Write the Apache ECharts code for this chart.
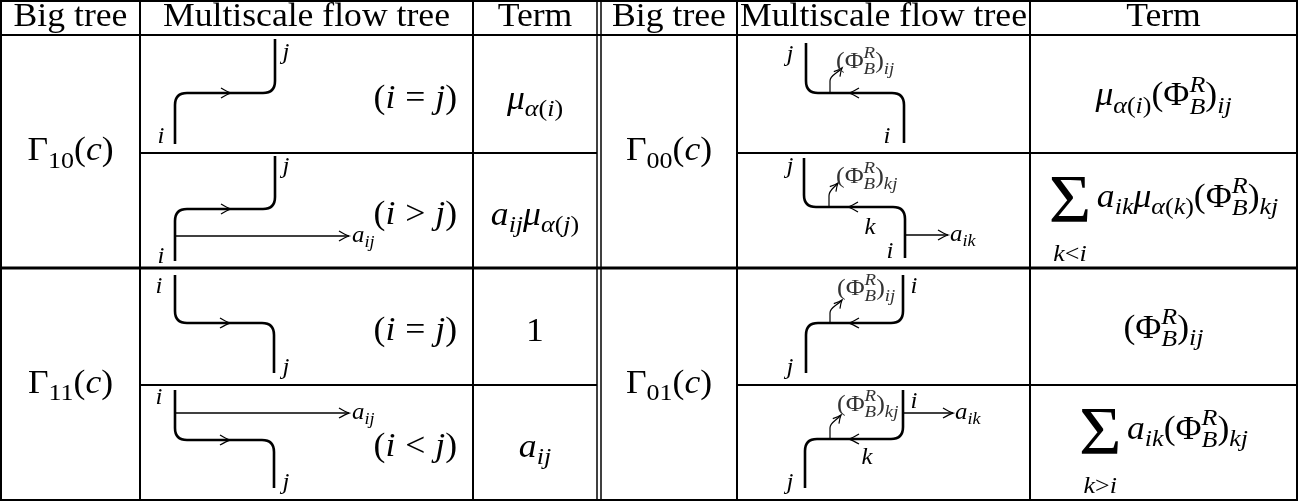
<!DOCTYPE html>
<html>
<head>
<meta charset="utf-8">
<script src="https://cdn.jsdelivr.net/npm/echarts@6/dist/echarts.min.js"></script>
<style>
  html, body { margin: 0; padding: 0; background: #fff; }
  #main { width: 1298px; height: 504px; }
</style>
</head>
<body>
<div id="main"></div>
<script>
// table frame
const colEdges = [1, 140, 473, 597, 601, 737, 1030, 1297];
const rowEdges = [1, 35, 153, 268, 385, 500];

// cell contents
const headers = ['Big tree', 'Multiscale flow tree', 'Term', 'Big tree', 'Multiscale flow tree', 'Term'];
const bigTreeIdx = ['10', '11', '00', '01'];
const condOps = ['=', '>', '=', '<'];
const termsLeft = [
  [['μ', 'i'], ['α', 'is'], ['(', 'rs'], ['i', 'is'], [')', 'rs']],
  [['a', 'i'], ['ij', 'is'], ['μ', 'i'], ['α', 'is'], ['(', 'rs'], ['j', 'is'], [')', 'rs']],
  [['1', 'r']],
  [['a', 'i'], ['ij', 'is']]
];
const termsRight = [
  [['μ', 'i'], ['α', 'is'], ['(', 'rs'], ['i', 'is'], [')', 'rs'], ['(', 'r'], ['Φ', 'r'], ['R|B', 'ip'], [')', 'r'], ['ij', 'is']],
  [['Σ', 'S'], ['a', 'i'], ['ik', 'is'], ['μ', 'i'], ['α', 'is'], ['(', 'rs'], ['k', 'is'], [')', 'rs'], ['(', 'r'], ['Φ', 'r'], ['R|B', 'ip'], [')', 'r'], ['kj', 'is']],
  [['(', 'r'], ['Φ', 'r'], ['R|B', 'ip'], [')', 'r'], ['ij', 'is']],
  [['Σ', 'S'], ['a', 'i'], ['ik', 'is'], ['(', 'r'], ['Φ', 'r'], ['R|B', 'ip'], [')', 'r'], ['kj', 'is']]
];
const sumLimits = [null, [['k', 'is'], ['<', 'rs'], ['i', 'is']], null, [['k', 'is'], ['>', 'rs'], ['i', 'is']]];

// labels used inside the flow trees
const treeText = {
  i: [['i', 'i']], j: [['j', 'i']], k: [['k', 'i']],
  aij: [['a', 'i'], ['ij', 'is']],
  aik: [['a', 'i'], ['ik', 'is']],
  phiij: [['(', 'r'], ['Φ', 'r'], ['R|B', 'ip'], [')', 'r'], ['ij', 'is']],
  phikj: [['(', 'r'], ['Φ', 'r'], ['R|B', 'ip'], [')', 'r'], ['kj', 'is']]
};

// flow tree shapes, relative to the cell's left edge and row top
const trees = [
  { block: 0, row: 0, main: [[35, 109], [35, 58], [135, 58], [135, 4]], arrow: [86, 58, 0],
    labels: [['i', 21, 102], ['j', 146, 18]] },
  { block: 0, row: 1, main: [[35, 108], [35, 56], [135, 56], [135, 3]], arrow: [86, 56, 0],
    branches: [[[35, 83], [209, 83]]],
    labels: [['i', 21, 104], ['j', 146, 14], ['aij', 212, 83, 'left']] },
  { block: 0, row: 2, main: [[35, 7], [35, 55], [134, 55], [134, 105]], arrow: [85, 55, 0],
    labels: [['i', 19, 19], ['j', 146, 100]] },
  { block: 0, row: 3, main: [[35, 5], [35, 55], [134, 55], [134, 103]], arrow: [85, 55, 0],
    branches: [[[35, 28], [209, 28]]],
    labels: [['i', 19, 13], ['aij', 212, 28, 'left'], ['j', 146, 98]] },
  { block: 1, row: 0, main: [[69, 8], [69, 58], [167, 58], [167, 108]], arrow: [117, 58, Math.PI],
    phi: [[93, 58], [105, 33]],
    labels: [['j', 53, 20], ['i', 150, 102], ['phiij', 99, 27, 'left']] },
  { block: 1, row: 1, main: [[67, 5], [67, 54], [168, 54], [168, 105]], arrow: [116, 54, Math.PI],
    phi: [[92, 54], [101, 30]], branches: [[[168, 82], [211, 82]]],
    labels: [['j', 53, 14], ['k', 133, 75], ['i', 153, 99], ['aik', 213, 82, 'left'], ['phikj', 99, 24, 'left']] },
  { block: 1, row: 2, main: [[166, 7], [166, 55], [69, 55], [69, 105]], arrow: [117, 55, Math.PI],
    phi: [[93, 55], [105, 32]],
    labels: [['i', 177, 19], ['j', 53, 100], ['phiij', 100, 21, 'left']] },
  { block: 1, row: 3, main: [[166, 5], [166, 54], [68, 54], [68, 103]], arrow: [117, 54, Math.PI],
    phi: [[93, 54], [104, 30]], branches: [[[166, 28], [216, 28]]],
    labels: [['i', 177, 17], ['aik', 218, 28, 'left'], ['k', 130, 73], ['j', 53, 98], ['phikj', 100, 20, 'left']] }
];

const W = 1298, H = 504;
const FONT = '"Liberation Serif", "Times New Roman", serif';
const S = 33, HS = 33, TL = 23, PL = 24;
const SX = 1.08;   // widen Times a little towards Computer Modern widths

const ctx = document.createElement('canvas').getContext('2d');
function fontStr(st, size) { return (st === 'i' ? 'italic ' : '') + size + 'px ' + FONT; }
function textW(t, st, size) { ctx.font = fontStr(st, size); return ctx.measureText(t).width * SX; }
ctx.font = fontStr('r', 100);
ctx.textBaseline = 'middle';
let K = ctx.measureText('H').actualBoundingBoxDescent / 100;
if (!(K > 0.1 && K < 0.6)) K = 0.33;

function layoutMath(tokens, size) {
  const out = [];
  let x = 0, sigmaMid = null;
  const sub = size * 0.73;
  function push(t, st, sz, dy) {
    out.push({ t: t, st: st, size: sz, x: x, dy: dy });
    x += textW(t, st, sz);
  }
  tokens.forEach(function (tk) {
    const t = tk[0], k = tk[1];
    if (k === 'op') { x += size * 0.3; push(t, 'r', size, 0); x += size * 0.3; }
    else if (k === 'r' || k === 'i') push(t, k, size, 0);
    else if (k === 'rs' || k === 'is') push(t, k[0], sub, size * 0.22);
    else if (k === 'ip') {
      const parts = t.split('|');
      const w = Math.max(textW(parts[0], 'i', sub), textW(parts[1], 'i', sub));
      out.push({ t: parts[0], st: 'i', size: sub, x: x, dy: -size * 0.42 });
      out.push({ t: parts[1], st: 'i', size: sub, x: x, dy: size * 0.25 });
      x += w;
    } else if (k === 'S') {
      const x0 = x;
      push(t, 'r', size * 2.05, size * 0.43);
      sigmaMid = (x0 + x) / 2;
      x += size * 0.17;
    }
  });
  return { pieces: out, width: x, sigmaMid: sigmaMid };
}

function mathEls(tokens, size, px, baseline, align, color, limit) {
  const L = layoutMath(tokens, size);
  const x0 = align === 'center' ? px - L.width / 2 : (align === 'right' ? px - L.width : px);
  const els = L.pieces.map(function (p) {
    return {
      type: 'text', silent: true,
      x: x0 + p.x, y: baseline + p.dy - K * p.size, scaleX: SX,
      style: {
        text: p.t, x: 0, y: 0,
        font: fontStr(p.st, p.size), fill: color,
        align: 'left', verticalAlign: 'middle', textAlign: 'left', textVerticalAlign: 'middle'
      }
    };
  });
  if (limit && L.sigmaMid != null) {
    const lim = mathEls(limit, size, x0 + L.sigmaMid, baseline + 54, 'center', color);
    // limit tokens are script-sized, undo the subscript drop
    lim.forEach(function (e) { e.y -= size * 0.22; });
    return els.concat(lim);
  }
  return els;
}

function roundedPath(pts, r) {
  let d = 'M' + pts[0][0] + ',' + pts[0][1];
  for (let i = 1; i < pts.length - 1; i++) {
    const a = pts[i - 1], p = pts[i], b = pts[i + 1];
    const l1 = Math.hypot(p[0] - a[0], p[1] - a[1]), l2 = Math.hypot(b[0] - p[0], b[1] - p[1]);
    const r1 = Math.min(r, l1 / 2), r2 = Math.min(r, l2 / 2);
    const s = [p[0] + (a[0] - p[0]) * r1 / l1, p[1] + (a[1] - p[1]) * r1 / l1];
    const e = [p[0] + (b[0] - p[0]) * r2 / l2, p[1] + (b[1] - p[1]) * r2 / l2];
    d += ' L' + s[0] + ',' + s[1] + ' Q' + p[0] + ',' + p[1] + ' ' + e[0] + ',' + e[1];
  }
  const z = pts[pts.length - 1];
  return d + ' L' + z[0] + ',' + z[1];
}

function arrowHead(tip, ang, len) {
  const c = Math.cos(ang), s = Math.sin(ang);
  const P = function (u, v) { return (tip[0] + u * c - v * s) + ',' + (tip[1] + u * s + v * c); };
  return 'M' + P(-len, -len * 0.5) + ' Q' + P(-len * 0.35, -len * 0.1) + ' ' + P(0, 0) +
    ' Q' + P(-len * 0.35, len * 0.1) + ' ' + P(-len, len * 0.5);
}

// frame segments [x1, y1, x2, y2, width]
const frameSegs = [];
const yTop = rowEdges[0], yBot = rowEdges[rowEdges.length - 1];
const xLeft = 0, xRight = W;
frameSegs.push([xLeft, rowEdges[0], xRight, rowEdges[0], 2]);
frameSegs.push([xLeft, rowEdges[1], xRight, rowEdges[1], 2]);
[rowEdges[2], rowEdges[4]].forEach(function (y) {
  frameSegs.push([colEdges[1], y, colEdges[3], y, 2]);
  frameSegs.push([colEdges[5], y, xRight, y, 2]);
});
frameSegs.push([xLeft, rowEdges[3], xRight, rowEdges[3], 3]);
frameSegs.push([xLeft, yBot, xRight, yBot, 2]);
colEdges.forEach(function (x, i) {
  frameSegs.push([x, yTop, x, yBot, (i === 3 || i === 4) ? 1.5 : 2]);
});

// text items
const textItems = [];
const cellPairs = [[0, 1], [1, 2], [2, 3], [4, 5], [5, 6], [6, 7]];
headers.forEach(function (h, i) {
  const c = cellPairs[i];
  textItems.push({ tokens: [[h, 'r']], size: HS, x: (colEdges[c[0]] + colEdges[c[1]]) / 2, y: rowEdges[1] - 9, align: 'center' });
});
bigTreeIdx.forEach(function (n, i) {
  const c = i < 2 ? [0, 1] : [4, 5];
  const r = i % 2 === 0 ? [1, 3] : [3, 5];
  textItems.push({
    tokens: [['Γ', 'r'], [n, 'rs'], ['(', 'r'], ['c', 'i'], [')', 'r']], size: S,
    x: (colEdges[c[0]] + colEdges[c[1]]) / 2, y: (rowEdges[r[0]] + rowEdges[r[1]]) / 2 + 9, align: 'center'
  });
});
condOps.forEach(function (op, i) {
  const t = rowEdges[i + 1], h = rowEdges[i + 2] - t;
  textItems.push({ tokens: [['(', 'r'], ['i', 'i'], [op, 'op'], ['j', 'i'], [')', 'r']], size: S,
    x: colEdges[2] - 16, y: t + 0.62 * h, align: 'right' });
});
termsLeft.forEach(function (tk, i) {
  const t = rowEdges[i + 1], h = rowEdges[i + 2] - t;
  textItems.push({ tokens: tk, size: S, x: (colEdges[2] + colEdges[3]) / 2, y: t + 0.63 * h, align: 'center' });
});
termsRight.forEach(function (tk, i) {
  const t = rowEdges[i + 1], h = rowEdges[i + 2] - t;
  textItems.push({ tokens: tk, size: S, x: (colEdges[6] + colEdges[7]) / 2,
    y: t + (sumLimits[i] ? 0.47 : 0.6) * h, align: 'center', limit: sumLimits[i] });
});

const chart = echarts.init(document.getElementById('main'));
const option = {
  backgroundColor: '#fff',
  animation: false,
  grid: { left: 0, right: 0, top: 0, bottom: 0 },
  xAxis: { type: 'value', min: 0, max: W, show: false },
  yAxis: { type: 'value', min: 0, max: H, inverse: true, show: false },
  series: [
    {
      type: 'custom', coordinateSystem: 'cartesian2d', silent: true, clip: false,
      encode: { x: 0, y: 1 },
      data: frameSegs.map(function (s) { return [s[0], s[1]]; }),
      renderItem: function (params, api) {
        const s = frameSegs[params.dataIndex];
        const a = api.coord([s[0], s[1]]), b = api.coord([s[2], s[3]]);
        return { type: 'line', shape: { x1: a[0], y1: a[1], x2: b[0], y2: b[1] },
          style: { stroke: '#000', lineWidth: s[4] } };
      }
    },
    {
      type: 'custom', coordinateSystem: 'cartesian2d', silent: true, clip: false,
      encode: { x: 0, y: 1 },
      data: trees.map(function (t) { return [colEdges[t.block === 0 ? 1 : 5], rowEdges[t.row + 1]]; }),
      renderItem: function (params, api) {
        const t = trees[params.dataIndex];
        const ox = colEdges[t.block === 0 ? 1 : 5], oy = rowEdges[t.row + 1];
        const P = function (q) { return api.coord([ox + q[0], oy + q[1]]); };
        const kids = [];
        kids.push({ type: 'path', shape: { pathData: roundedPath(t.main.map(P), 12) },
          style: { stroke: '#000', fill: 'none', lineWidth: 2.6, lineJoin: 'round' } });
        const am = P([t.arrow[0], t.arrow[1]]);
        kids.push({ type: 'path', shape: { pathData: arrowHead([am[0] + 5 * Math.cos(t.arrow[2]), am[1]], t.arrow[2], 10) },
          style: { stroke: '#000', fill: 'none', lineWidth: 1.3 } });
        (t.branches || []).forEach(function (br) {
          const a = P(br[0]), b = P(br[1]);
          kids.push({ type: 'line', shape: { x1: a[0], y1: a[1], x2: b[0], y2: b[1] },
            style: { stroke: '#000', lineWidth: 1.3 } });
          kids.push({ type: 'path', shape: { pathData: arrowHead(b, Math.atan2(b[1] - a[1], b[0] - a[0]), 10) },
            style: { stroke: '#000', fill: 'none', lineWidth: 1.3 } });
        });
        if (t.phi) {
          const s = P(t.phi[0]), e = P(t.phi[1]);
          const c2 = [e[0] - 5, e[1] + 6];
          const d = 'M' + s[0] + ',' + s[1] + ' L' + s[0] + ',' + (e[1] + 13) +
            ' C' + s[0] + ',' + (e[1] + 7) + ' ' + c2[0] + ',' + c2[1] + ' ' + e[0] + ',' + e[1];
          kids.push({ type: 'path', shape: { pathData: d }, style: { stroke: '#000', fill: 'none', lineWidth: 1.2 } });
          kids.push({ type: 'path', shape: { pathData: arrowHead(e, Math.atan2(e[1] - c2[1], e[0] - c2[0]), 8) },
            style: { stroke: '#000', fill: 'none', lineWidth: 1.2 } });
        }
        t.labels.forEach(function (lb) {
          const key = lb[0], isPhi = key.indexOf('phi') === 0;
          const size = isPhi ? PL : TL;
          const p = P([lb[1], lb[2]]);
          const els = mathEls(treeText[key], size, p[0], p[1] + 0.27 * size, lb[3] || 'center', isPhi ? '#333' : '#000');
          Array.prototype.push.apply(kids, els);
        });
        return { type: 'group', children: kids };
      }
    },
    {
      type: 'custom', coordinateSystem: 'cartesian2d', silent: true, clip: false,
      encode: { x: 0, y: 1 },
      data: textItems.map(function (t) { return [t.x, t.y]; }),
      renderItem: function (params, api) {
        const t = textItems[params.dataIndex];
        const p = api.coord([t.x, t.y]);
        return { type: 'group', children: mathEls(t.tokens, t.size, p[0], p[1], t.align, '#000', t.limit) };
      }
    }
  ]
};
chart.setOption(option);
</script>
</body>
</html>
